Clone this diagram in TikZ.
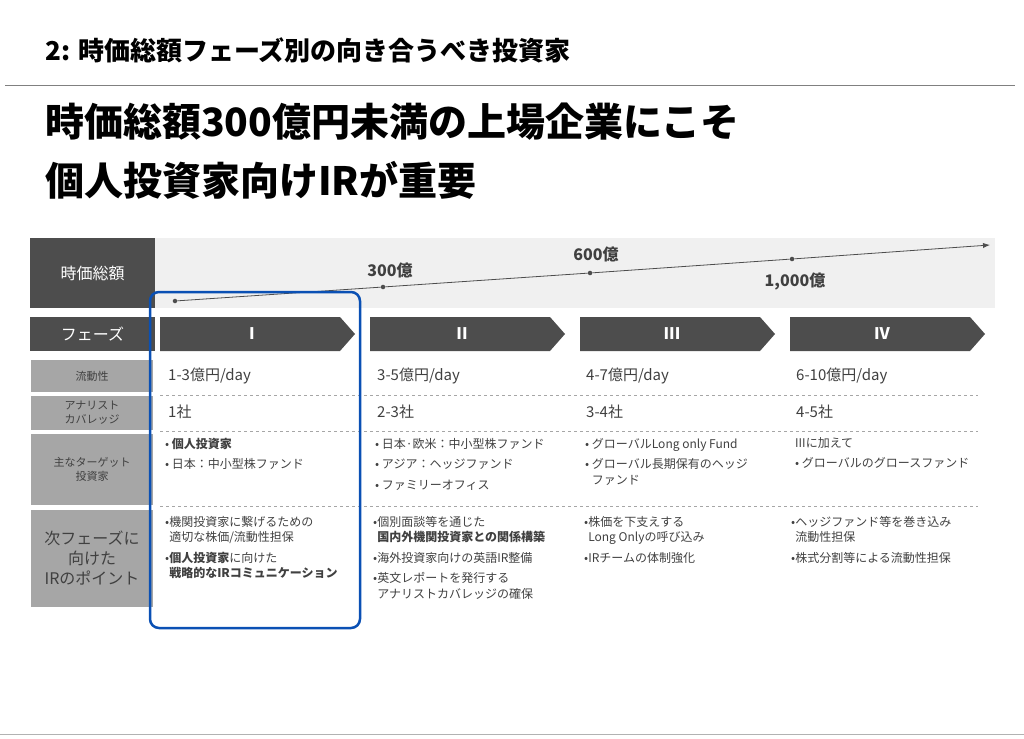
\documentclass[tikz,border=0pt]{standalone}
\usepackage{fontspec}
\setmainfont{Noto Sans CJK JP}
\usetikzlibrary{arrows.meta}
\definecolor{dk}{HTML}{4D4D4D}
\definecolor{lt}{HTML}{A6A6A6}
\definecolor{band}{HTML}{F0F0F0}
\definecolor{tx}{HTML}{404040}
\definecolor{bl}{HTML}{0A50B4}
\tikzset{
 lab/.style={fill=lt,text=tx,align=center,inner sep=0pt,font=\fontsize{11}{14}\selectfont},
 dlab/.style={fill=dk,text=white,align=center,inner sep=0pt,font=\fontsize{16}{19}\selectfont},
 val/.style={anchor=west,text=tx,inner sep=0pt,font=\fontsize{15}{18}\selectfont},
 cell/.style={anchor=north west,text=tx,inner sep=0pt,align=left,font=\fontsize{12}{15.5}\selectfont},
 dot/.style={circle,fill=dk,inner sep=1.6pt},
 mk/.style={font=\bfseries\fontsize{16}{19}\selectfont,text=tx,inner sep=0pt},
 sep/.style={draw=gray!70,dashed,line width=0.5pt},
 chev/.style={fill=dk}
}
\begin{document}
\begin{tikzpicture}[x=1pt,y=-1pt]
\useasboundingbox (0,0) rectangle (1024,738);
\node[anchor=west,inner sep=0pt,font=\bfseries\fontsize{26}{30}\selectfont] (t) at (45,50) {2: 時価総額フェーズ別の向き合うべき投資家};
\draw[gray,line width=1pt] (5,86) -- (1015,86);
\node[anchor=west,inner sep=0pt,font=\bfseries\fontsize{39}{46}\selectfont] (h1) at (45,122) {時価総額300億円未満の上場企業にこそ};
\node[anchor=west,inner sep=0pt,font=\bfseries\fontsize{39}{46}\selectfont] (h2) at (45,180) {個人投資家向けIRが重要};
\fill[band] (155,238) rectangle (995,308);
\node[dlab,minimum width=125,minimum height=70] (mc) at (92.5,273) {時価総額};
\node[dot] (d0) at (175,301) {};
\node[dot] (d1) at (383,287) {};
\node[dot] (d2) at (590,273) {};
\node[dot] (d3) at (792,259) {};
\coordinate (end) at (990,245);
\draw[dk,line width=0.8pt,-{Latex[length=7pt]}] (d0) -- (d1) -- (d2) -- (d3) -- (end);
\node[mk] (l1) at (390,270) {300億};
\node[mk] (l2) at (596,254) {600億};
\node[mk] (l3) at (795,281) {1,000億};
\node[dlab,minimum width=125,minimum height=34] (ph) at (92.5,334) {フェーズ};
\foreach \x/\r/\n in {160/I/pI,370/II/pII,580/III/pIII,790/IV/pIV}{
 \fill[chev] (\x,317) -- (\x+180,317) -- (\x+195,334) -- (\x+180,351) -- (\x,351) -- cycle;
 \node[text=white,font=\bfseries\fontsize{16}{19}\selectfont] (\n) at (\x+92,334) {\r};
}
\node[lab,minimum width=122,minimum height=32] (r1) at (92,376) {流動性};
\node[lab,minimum width=122,minimum height=34] (r2) at (92,413) {アナリスト\\カバレッジ};
\node[lab,minimum width=122,minimum height=71] (r3) at (92,469.5) {主なターゲット\\投資家};
\node[lab,minimum width=122,minimum height=97,font=\fontsize{16}{20}\selectfont] (r4) at (92,558.5) {次フェーズに\\向けた\\IRのポイント};
\foreach \y in {395,431,506}{\draw[sep] (160,\y) -- (978,\y);}
\node[val] (v11) at (168,376) {1-3億円/day};
\node[val] (v12) at (377,376) {3-5億円/day};
\node[val] (v13) at (586,376) {4-7億円/day};
\node[val] (v14) at (796,376) {6-10億円/day};
\node[val] (v21) at (168,412) {1社};
\node[val] (v22) at (377,412) {2-3社};
\node[val] (v23) at (586,412) {3-4社};
\node[val] (v24) at (796,412) {4-5社};
\node[cell] (c31) at (165,438) {• \textbf{個人投資家}\\[5pt]• 日本：中小型株ファンド};
\node[cell] (c32) at (375,438) {• 日本·欧米：中小型株ファンド\\[5pt]• アジア：ヘッジファンド\\[5pt]• ファミリーオフィス};
\node[cell] (c33) at (585,438) {• グローバルLong only Fund\\[5pt]• グローバル長期保有のヘッジ\\\phantom{• }ファンド};
\node[cell] (c34) at (795,437) {IIIに加えて\\[5pt]• グローバルのグロースファンド};
\node[cell] (c41) at (165,516) {•機関投資家に繋げるための\\\phantom{•}適切な株価/流動性担保\\[5pt]•\textbf{個人投資家}に向けた\\\phantom{•}\textbf{戦略的なIRコミュニケーション}};
\node[cell] (c42) at (373,516) {•個別面談等を通じた\\\phantom{•}\textbf{国内外機関投資家との関係構築}\\[5pt]•海外投資家向けの英語IR整備\\[5pt]•英文レポートを発行する\\\phantom{•}アナリストカバレッジの確保};
\node[cell] (c43) at (584,516) {•株価を下支えする\\\phantom{•}Long Onlyの呼び込み\\[5pt]•IRチームの体制強化};
\node[cell] (c44) at (791,516) {•ヘッジファンド等を巻き込み\\\phantom{•}流動性担保\\[5pt]•株式分割等による流動性担保};
\draw[bl,line width=2.5pt,rounded corners=9pt] (150,292) rectangle (360,628);
\draw[gray!60,line width=0.6pt] (0,734) -- (1024,734);
\end{tikzpicture}
\end{document}
